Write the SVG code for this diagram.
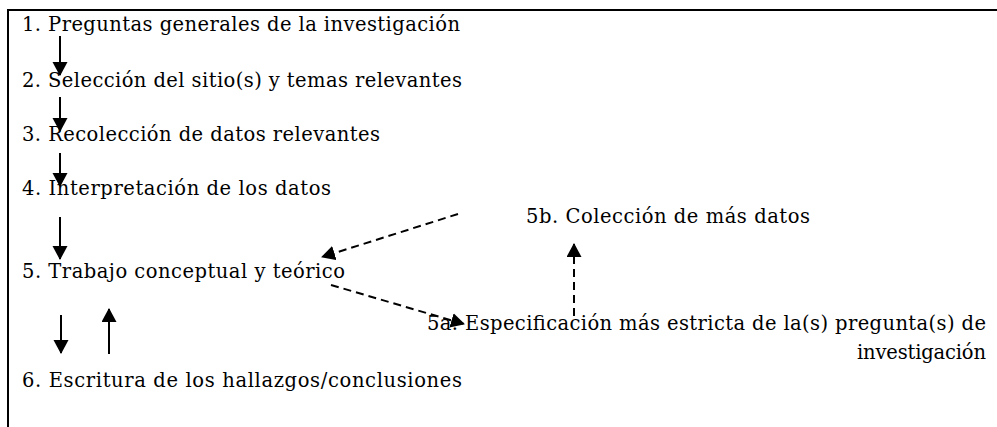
<svg xmlns="http://www.w3.org/2000/svg" width="997" height="427" viewBox="0 0 997 427">
<style>
text{font-family:"DejaVu Serif","Liberation Serif",serif;font-size:19.5px;fill:#000}
.frame{fill:none;stroke:#000;stroke-width:2}
.solid{fill:none;stroke:#000;stroke-width:2}
.dash{fill:none;stroke:#000;stroke-width:2;stroke-dasharray:8 5}
</style>
<defs>
<marker id="ah" markerUnits="userSpaceOnUse" markerWidth="16" markerHeight="16" refX="13" refY="7.5" orient="auto">
<path d="M0,0 L14,7.5 L0,15 Z" fill="#000"/>
</marker>
</defs>
<path class="frame" d="M8,427 V10 H997"/>
<g id="n1"><text x="22" y="31" textLength="438">1. Preguntas generales de la investigación</text></g>
<g id="n2"><text x="22" y="87" textLength="440">2. Selección del sitio(s) y temas relevantes</text></g>
<g id="n3"><text x="22" y="141" textLength="358">3. Recolección de datos relevantes</text></g>
<g id="n4"><text x="22" y="195" textLength="309">4. Interpretación de los datos</text></g>
<g id="n5"><text x="22" y="278" textLength="323">5. Trabajo conceptual y teórico</text></g>
<g id="n6"><text x="22" y="387" textLength="440">6. Escritura de los hallazgos/conclusiones</text></g>
<g id="n5b"><text x="526" y="223" textLength="284">5b. Colección de más datos</text></g>
<g id="n5a"><text x="427" y="330" textLength="559">5a. Especificación más estricta de la(s) pregunta(s) de</text><text x="986" y="359" text-anchor="end" textLength="129">investigación</text></g>
<g id="connectors">
<line class="solid" x1="60" y1="36" x2="60" y2="75" marker-end="url(#ah)"/>
<line class="solid" x1="60" y1="97" x2="60" y2="131" marker-end="url(#ah)"/>
<line class="solid" x1="60" y1="153" x2="60" y2="186" marker-end="url(#ah)"/>
<line class="solid" x1="60" y1="217" x2="60" y2="259" marker-end="url(#ah)"/>
<line class="solid" x1="61" y1="315" x2="61" y2="353" marker-end="url(#ah)"/>
<line class="solid" x1="109" y1="354" x2="109" y2="309" marker-end="url(#ah)"/>
<line class="dash" x1="458" y1="214" x2="322" y2="257" marker-end="url(#ah)"/>
<line class="dash" x1="331" y1="285" x2="464" y2="324" marker-end="url(#ah)"/>
<line class="dash" x1="574" y1="316" x2="574" y2="244" marker-end="url(#ah)"/>
</g>
</svg>
